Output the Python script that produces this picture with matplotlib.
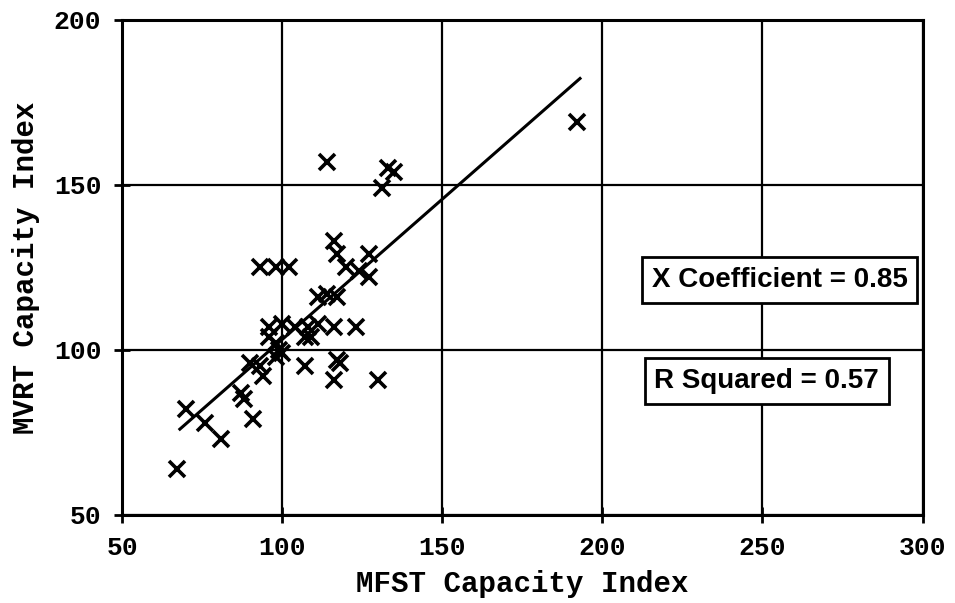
import matplotlib
matplotlib.use("Agg")
import matplotlib.pyplot as plt
import numpy as np

# MFST vs MVRT capacity index
mfst = [67, 70, 76, 81, 87, 88, 91, 90, 93, 94, 96, 98, 98, 99, 100,
        96, 100, 104, 108, 111, 116, 123, 107, 109, 107, 117, 118, 116, 130,
        93, 98, 102, 111, 114, 117, 120, 124, 127, 116, 117, 127,
        114, 133, 135, 131, 192]
mvrt = [64, 82, 78, 73, 87, 85, 79, 96, 95, 92, 104, 102, 98, 100, 99,
        107, 108, 107, 107, 108, 107, 107, 104, 104, 95, 97, 96, 91, 91,
        125, 125, 125, 116, 117, 116, 125, 124, 122, 133, 129, 129,
        157, 155, 154, 149, 169]

# fitted line
coef = 0.85
intercept = 18.2
fit_x = [68, 193]

xticks = [50, 100, 150, 200, 250, 300]
yticks = [50, 100, 150, 200]

fig = plt.figure(figsize=(9.55, 6.03), dpi=100)
ax = fig.add_axes([0.128, 0.146, 0.838, 0.821])

ax.set_xlim(50, 300)
ax.set_ylim(50, 200)
ax.set_xticks(xticks)
ax.set_yticks(yticks)
ax.grid(True, color="black", linewidth=1.6)
ax.set_axisbelow(True)
for s in ax.spines.values():
    s.set_linewidth(2.2)

ax.plot(mfst, mvrt, linestyle="none", marker="x", color="black",
        markersize=12, markeredgewidth=2.6)
fx = np.array(fit_x)
ax.plot(fx, coef * fx + intercept, color="black", linewidth=2.2)

mono = ["Liberation Mono", "DejaVu Sans Mono"]
ax.tick_params(direction="inout", length=12, width=2, pad=9)
for lab in ax.get_xticklabels() + ax.get_yticklabels():
    lab.set_fontfamily(mono)
    lab.set_fontweight("bold")
    lab.set_fontsize(19)
ax.set_xlabel("MFST Capacity Index", fontfamily=mono, fontweight="bold",
              fontsize=21, labelpad=7)
ax.set_ylabel("MVRT Capacity Index", fontfamily=mono, fontweight="bold",
              fontsize=21, labelpad=10)

sans = ["Liberation Sans Narrow", "Liberation Sans"]
box = dict(boxstyle="square,pad=0.35", facecolor="white", edgecolor="black",
           linewidth=2)
ax.text(255.3, 121.2, "X Coefficient = 0.85", ha="center", va="center",
        fontfamily=sans, fontsize=20, fontweight="bold", bbox=box)
ax.text(251.3, 90.6, "R Squared = 0.57", ha="center", va="center",
        fontfamily=sans, fontsize=20, fontweight="bold", bbox=box)

fig.savefig("out.png", dpi=100)
